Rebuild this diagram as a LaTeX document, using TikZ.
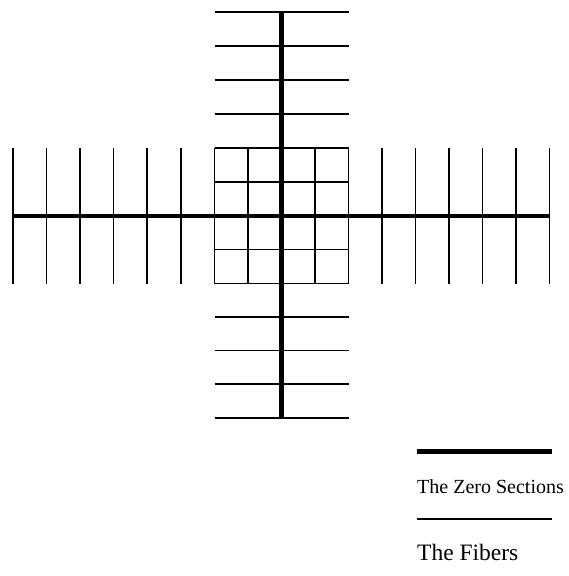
\documentclass[tikz,border=0pt]{standalone}
\usepackage{fontspec}
\setmainfont{Liberation Serif}
\begin{document}
\begin{tikzpicture}[x=1pt,y=-1pt,
  zero/.style={line width=4.2pt},
  fiber/.style={line width=1.8pt},
  lbl/.style={anchor=base west,inner sep=0pt}]
\useasboundingbox (0,0) rectangle (568,576);
% vertical fibers along horizontal zero section
\foreach \x in {13,46.5,80,113.5,147,181,214.5,248,315,348.5,382,415.5,449,482.5,516,549.5}
  \draw[fiber] (\x,148) -- (\x,283.5);
% horizontal fibers along vertical zero section
\foreach \y in {12,46,80,114,148,182,249.5,283.5,317,350.5,384,418}
  \draw[fiber] (214.5,\y) -- (348.5,\y);
% zero sections
\coordinate (hl) at (13,216);
\coordinate (hr) at (549.5,216);
\coordinate (vt) at (281.5,12);
\coordinate (vb) at (281.5,418);
\draw[zero] (hl) -- (hr);
\draw[zero] (vt) -- (vb);
% legend
\coordinate (l1a) at (417,451.5);
\coordinate (l1b) at (552,451.5);
\coordinate (l2a) at (417,519);
\coordinate (l2b) at (552,519);
\draw[zero] (l1a) -- (l1b);
\draw[fiber] (l2a) -- (l2b);
\node[lbl,font=\fontsize{20}{24}\selectfont] (zs) at (417,493) {The Zero Sections};
\node[lbl,font=\fontsize{23.5}{28}\selectfont] (fb) at (417,560) {The Fibers};
\end{tikzpicture}
\end{document}
